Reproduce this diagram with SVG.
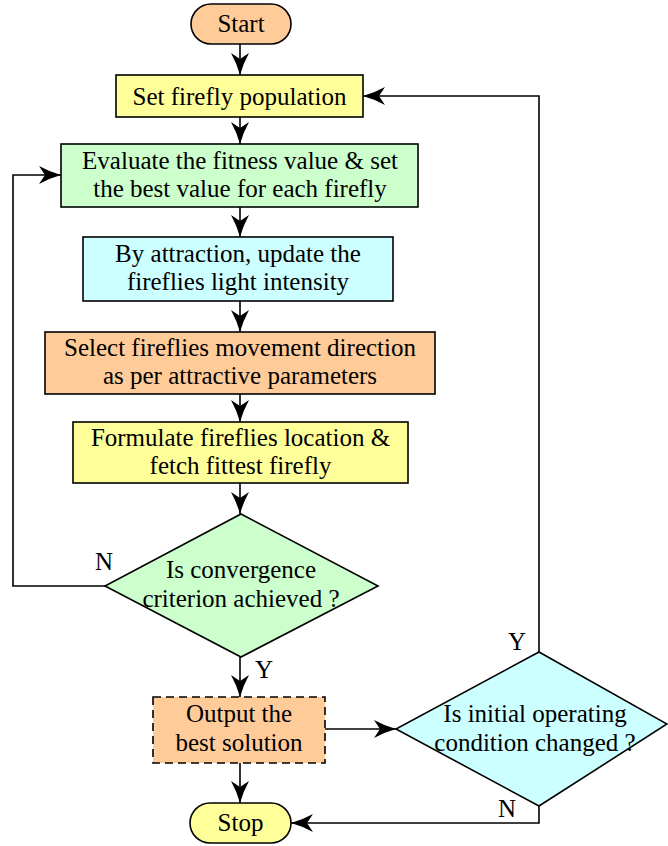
<svg xmlns="http://www.w3.org/2000/svg" width="668" height="846" viewBox="0 0 668 846">
  <style>
    .box { stroke: #000; stroke-width: 1.6; }
    .dash { stroke-dasharray: 8 5; }
    .peach { fill: #FFCC99; }
    .yellow { fill: #FFFF99; }
    .green { fill: #CCFFCC; }
    .cyan { fill: #CCFFFF; }
    text { font-family: 'Liberation Serif', 'Times New Roman', serif; font-size: 25px; fill: #000; text-anchor: middle; }
    .wire { fill: none; stroke: #000; stroke-width: 1.6; }
  </style>
  <defs>
    <marker id="arrow" markerUnits="userSpaceOnUse" viewBox="-23 -10 25 20" refX="0" refY="0" markerWidth="25" markerHeight="20" orient="auto">
      <path d="M0,0 Q-11,-3 -22,-9 L-16,0 L-22,9 Q-11,3 0,0 Z" fill="#000"/>
    </marker>
  </defs>

  <rect width="668" height="846" fill="#fff"/>

  <g id="connectors">
    <line class="wire" x1="240" y1="44" x2="240" y2="75" marker-end="url(#arrow)"/>
    <line class="wire" x1="240" y1="117" x2="240" y2="144" marker-end="url(#arrow)"/>
    <line class="wire" x1="240" y1="207" x2="240" y2="237" marker-end="url(#arrow)"/>
    <line class="wire" x1="240" y1="301" x2="240" y2="332" marker-end="url(#arrow)"/>
    <line class="wire" x1="240" y1="394" x2="240" y2="422" marker-end="url(#arrow)"/>
    <line class="wire" x1="240" y1="483" x2="240" y2="514" marker-end="url(#arrow)"/>
    <line class="wire" x1="240" y1="657" x2="240" y2="697" marker-end="url(#arrow)"/>
    <line class="wire" x1="240" y1="763" x2="240" y2="803" marker-end="url(#arrow)"/>
    <line class="wire" x1="325" y1="729" x2="396" y2="729" marker-end="url(#arrow)"/>
    <polyline class="wire" points="105,586 13,586 13,175 61,175" marker-end="url(#arrow)"/>
    <polyline class="wire" points="539,652 539,96 363,96" marker-end="url(#arrow)"/>
    <polyline class="wire" points="539,806 539,823 291,823" marker-end="url(#arrow)"/>
    <text x="104" y="570">N</text>
    <text x="264" y="678">Y</text>
    <text x="517" y="650">Y</text>
    <text x="507" y="817">N</text>
  </g>

  <g id="start">
    <rect class="box peach" x="191" y="4" width="100" height="40" rx="20"/>
    <text x="241" y="32">Start</text>
  </g>

  <g id="set-population">
    <rect class="box yellow" x="116" y="75" width="247" height="42"/>
    <text x="239.5" y="105">Set firefly population</text>
  </g>

  <g id="evaluate">
    <rect class="box green" x="61" y="144" width="357" height="63"/>
    <text x="240" y="169">Evaluate the fitness value &amp; set</text>
    <text x="240" y="197">the best value for each firefly</text>
  </g>

  <g id="attraction">
    <rect class="box cyan" x="83" y="237" width="310" height="64"/>
    <text x="238" y="262">By attraction, update the</text>
    <text x="238" y="290">fireflies light intensity</text>
  </g>

  <g id="direction">
    <rect class="box peach" x="45" y="332" width="390" height="62"/>
    <text x="240" y="356">Select fireflies movement direction</text>
    <text x="240" y="384">as per attractive parameters</text>
  </g>

  <g id="location">
    <rect class="box yellow" x="73" y="422" width="335" height="61"/>
    <text x="240.5" y="446">Formulate fireflies location &amp;</text>
    <text x="240.5" y="474">fetch fittest firefly</text>
  </g>

  <g id="convergence">
    <polygon class="box green" points="241,514 378,586 241,657 105,586"/>
    <text x="241" y="578">Is convergence</text>
    <text x="241" y="607">criterion achieved ?</text>
  </g>

  <g id="output">
    <rect class="box peach dash" x="153" y="697" width="172" height="66"/>
    <text x="239" y="722">Output the</text>
    <text x="239" y="751">best solution</text>
  </g>

  <g id="condition">
    <polygon class="box cyan" points="539,652 667,724 539,806 396,729"/>
    <text x="535" y="722">Is initial operating</text>
    <text x="535" y="751">condition changed ?</text>
  </g>

  <g id="stop">
    <rect class="box yellow" x="190" y="803" width="101" height="40" rx="20"/>
    <text x="240.5" y="831">Stop</text>
  </g>
</svg>
